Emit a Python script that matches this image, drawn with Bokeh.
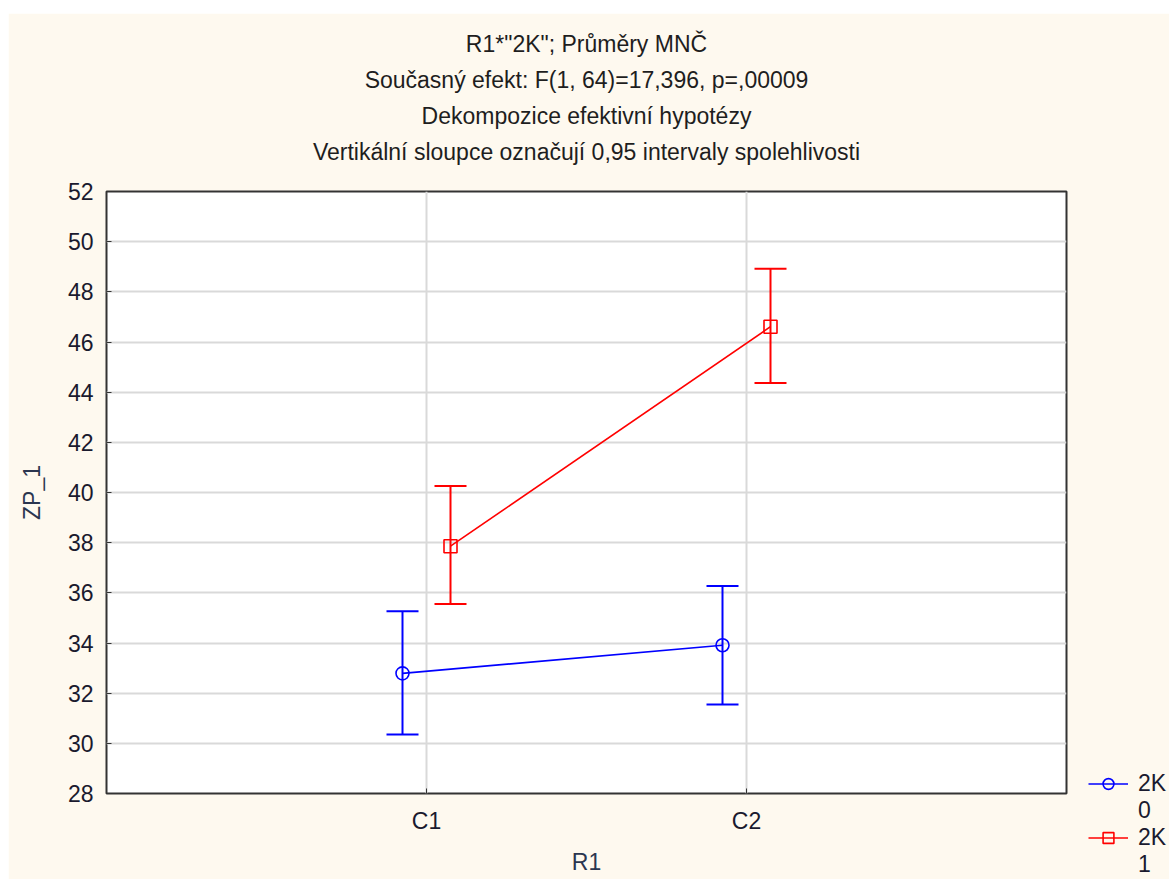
from bokeh.plotting import figure
from bokeh.models import (ColumnDataSource, Whisker, TeeHead, FixedTicker, Legend,
                          LegendItem, Title, Range1d)
from bokeh.embed import file_html
from bokeh.resources import INLINE

# ---- data ----
categories = ["C1", "C2"]
cat_pos = [1, 2]
series_head = "2K"
series_levels = ["0", "1"]
blue_mean = [32.79, 33.91]
blue_upper = [35.27, 36.27]
blue_lower = [30.35, 31.55]
red_mean = [37.86, 46.61]
red_upper = [40.26, 48.92]
red_lower = [35.55, 44.37]
y_ticks = [28, 30, 32, 34, 36, 38, 40, 42, 44, 46, 48, 50, 52]
title_lines = [
    'R1*"2K"; Průměry MNČ',
    "Současný efekt: F(1, 64)=17,396, p=,00009",
    "Dekompozice efektivní hypotézy",
    "Vertikální sloupce označují 0,95 intervaly spolehlivosti",
]

FONT = "Liberation Sans"
BG = "#fef9ef"
BLUE = "#0000ff"
RED = "#ff0000"
FS = "23px"

p = figure(frame_width=960, frame_height=602, output_backend="svg", toolbar_location=None,
           x_range=Range1d(0, 3), y_range=Range1d(28, 52),
           background_fill_color="white", border_fill_color=BG,
           min_border_left=98, min_border_right=103, min_border_bottom=86,
           min_border_top=178, title=None)
p.margin = (13, 0, 0, 8)
p.outline_line_color = "#333333"
p.outline_line_width = 2

# spacer between the titles and the frame, then titles (added bottom-up)
p.add_layout(Title(text=" ", standoff=10, text_font_size="10px"), "above")
for t in reversed(title_lines):
    p.add_layout(Title(text=t, align="center", text_font=FONT, text_font_size=FS,
                       text_font_style="normal", text_color="#1e1e1e",
                       standoff=8), "above")

# axes
p.xaxis.ticker = FixedTicker(ticks=cat_pos)
p.xaxis.major_label_overrides = {c: n for c, n in zip(cat_pos, categories)}
p.yaxis.ticker = FixedTicker(ticks=y_ticks)
for ax in (p.xaxis, p.yaxis):
    ax.axis_line_color = None
    ax.major_tick_in = 5
    ax.major_tick_out = 0
    ax.minor_tick_line_color = None
    ax.major_tick_line_color = "#333333"
    ax.major_label_text_font = FONT
    ax.major_label_text_font_size = FS
    ax.major_label_text_color = "#1a1a2e"
    ax.axis_label_text_font = FONT
    ax.axis_label_text_font_size = FS
    ax.axis_label_text_font_style = "normal"
    ax.axis_label_text_color = "#2b3650"
p.xaxis.axis_label = "R1"
p.yaxis.axis_label = "ZP_1"
p.xaxis.major_label_standoff = 14
p.yaxis.major_label_standoff = 13
p.xaxis.axis_label_standoff = 12
p.yaxis.axis_label_standoff = 20

p.grid.grid_line_color = "#d9d9d9"
p.grid.grid_line_width = 2

offset = 0.075
src_b = ColumnDataSource(dict(x=[c - offset for c in cat_pos], y=blue_mean,
                              up=blue_upper, lo=blue_lower))
src_r = ColumnDataSource(dict(x=[c + offset for c in cat_pos], y=red_mean,
                              up=red_upper, lo=red_lower))

items = []
for src, col, marker, lvl in ((src_b, BLUE, "circle", series_levels[0]),
                              (src_r, RED, "square", series_levels[1])):
    w = Whisker(source=src, base="x", upper="up", lower="lo", dimension="height",
                line_color=col, line_width=2,
                upper_head=TeeHead(size=32, line_color=col, line_width=2),
                lower_head=TeeHead(size=32, line_color=col, line_width=2))
    p.add_layout(w)
    ln = p.line("x", "y", source=src, line_color=col, line_width=1.6)
    sc = p.scatter("x", "y", source=src, marker=marker, size=13, fill_color=None,
                   line_color=col, line_width=1.6)
    items.append(LegendItem(label=series_head, renderers=[ln, sc]))
    items.append(LegendItem(label=lvl, renderers=[]))

legend = Legend(items=items, location=(22, -85), border_line_color=None,
                background_fill_alpha=0, padding=0, margin=0, spacing=0,
                glyph_width=40, glyph_height=27, label_standoff=10,
                label_text_font=FONT, label_text_font_size=FS,
                label_height=27, label_text_color="#1a1a2e")
p.add_layout(legend, "right")

open("out.html", "w").write(file_html(p, INLINE))
